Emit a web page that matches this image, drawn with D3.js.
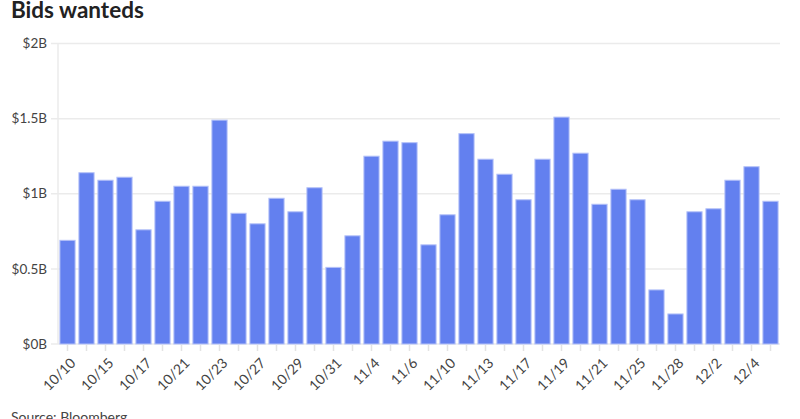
<!DOCTYPE html>
<html>
<head>
<meta charset="utf-8">
<script src="https://cdn.jsdelivr.net/npm/d3@7"></script>
<style>
  body { margin: 0; background: #fff; }
  svg text { font-family: Lato, "Open Sans", sans-serif; }
</style>
</head>
<body>
<div id="viz"></div>
<script>
// trading days shown on the x axis
var dates = ["10/10","10/14","10/15","10/16","10/17","10/20","10/21","10/22","10/23","10/24",
  "10/27","10/28","10/29","10/30","10/31","11/3","11/4","11/5","11/6","11/7",
  "11/10","11/12","11/13","11/14","11/17","11/18","11/19","11/20","11/21","11/24",
  "11/25","11/26","11/28","12/1","12/2","12/3","12/4","12/5"];

// bids wanted volume, $ billions
var volumes = [0.69,1.14,1.09,1.11,0.76,0.95,1.05,1.05,1.49,0.87,
  0.80,0.97,0.88,1.04,0.51,0.72,1.25,1.35,1.34,0.66,
  0.86,1.40,1.23,1.13,0.96,1.23,1.51,1.27,0.93,1.03,
  0.96,0.36,0.20,0.88,0.90,1.09,1.18,0.95];

var yTicks = [0, 0.5, 1, 1.5, 2];
var yTickLabels = ["$0B", "$0.5B", "$1B", "$1.5B", "$2B"];

var width = 800, height = 419;
var plotLeft = 58, plotRight = 780, plotTop = 43.5, plotBottom = 344;

var svg = d3.select("#viz")
  .append("svg")
    .attr("width", width)
    .attr("height", height);

var x = d3.scaleBand()
  .domain(dates)
  .range([plotLeft, plotRight])
  .paddingInner(0.2)
  .paddingOuter(0.1);

var y = d3.scaleLinear()
  .domain([0, 2])
  .range([plotBottom, plotTop]);

// title
svg.append("text")
  .attr("x", 11)
  .attr("y", 18)
  .style("font-size", "22.5px")
  .style("font-weight", "bold")
  .style("fill", "#222")
  .text("Bids wanteds");

// gridlines + y labels
svg.append("g")
  .selectAll("line")
  .data(yTicks)
  .enter()
  .append("line")
    .attr("x1", plotLeft - 7)
    .attr("x2", plotRight)
    .attr("y1", function(d) { return y(d); })
    .attr("y2", function(d) { return y(d); })
    .style("stroke", "#ebebeb")
    .style("stroke-width", 1.5);

svg.append("line")
  .attr("x1", plotLeft).attr("x2", plotLeft)
  .attr("y1", plotTop).attr("y2", plotBottom)
  .style("stroke", "#ebebeb")
  .style("stroke-width", 1.5);

svg.append("g")
  .selectAll("text")
  .data(yTicks)
  .enter()
  .append("text")
    .attr("x", plotLeft - 11)
    .attr("y", function(d) { return y(d); })
    .attr("dy", "0.35em")
    .attr("text-anchor", "end")
    .style("font-size", "13.5px")
    .style("fill", "#444")
    .text(function(d, i) { return yTickLabels[i]; });

// bars
svg.append("g")
  .selectAll("rect")
  .data(volumes)
  .enter()
  .append("rect")
    .attr("x", function(d, i) { return x(dates[i]); })
    .attr("width", x.bandwidth())
    .attr("y", function(d) { return y(d); })
    .attr("height", function(d) { return y(0) - y(d); })
    .style("fill", "#6380ef")
    .style("stroke", "#b4c1f8")
    .style("stroke-width", 1);

// x ticks, label every other day
var xg = svg.append("g")
  .selectAll("g")
  .data(dates)
  .enter()
  .append("g")
    .attr("transform", function(d) {
      return "translate(" + (x(d) + x.bandwidth() / 2) + "," + plotBottom + ")";
    });

xg.append("line")
  .attr("y1", 1)
  .attr("y2", 7)
  .style("stroke", "#e3e3e3")
  .style("stroke-width", 1.5);

xg.filter(function(d, i) { return i % 2 === 0; })
  .append("text")
    .attr("transform", "translate(2,13) rotate(-45)")
    .attr("text-anchor", "end")
    .attr("dy", "0.7em")
    .style("font-size", "14px")
    .style("fill", "#444")
    .text(function(d) { return d; });

// source note
svg.append("text")
  .attr("x", 11)
  .attr("y", 422)
  .style("font-size", "14px")
  .style("fill", "#444")
  .text("Source: Bloomberg");
</script>
</body>
</html>
